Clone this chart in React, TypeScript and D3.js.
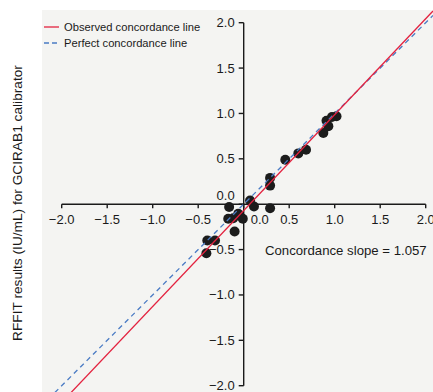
import React from "react";
import * as d3 from "d3";

const xTicks = [-2.0, -1.5, -1.0, -0.5, 0.0, 0.5, 1.0, 1.5, 2.0];
const yTicks = [-2.0, -1.5, -1.0, -0.5, 0.0, 0.5, 1.0, 1.5, 2.0];
const pointsX = [1.02, 0.97, 0.91, 0.93, 0.875, 0.685, 0.6, 0.457, 0.29, 0.29, 0.07, 0.113, 0.29, -0.16, -0.17, -0.115, -0.06, -0.01, -0.1, -0.4, -0.315, -0.41];
const pointsY = [0.97, 0.96, 0.92, 0.86, 0.785, 0.6, 0.56, 0.49, 0.29, 0.205, 0.04, -0.025, -0.045, -0.03, -0.16, -0.155, -0.105, -0.16, -0.3, -0.4, -0.4, -0.54];
const observedSlope = 1.057;
const observedIntercept = -0.07;
const legendLabels = ["Observed concordance line", "Perfect concordance line"];
const slopeLabel = "Concordance slope = 1.057";
const yLabel = "RFFIT results (IU/mL) for GCIRAB1 calibrator";

const W = 433;
const H = 392;
const font = "'Liberation Sans', Arial, Helvetica, sans-serif";
const red = "#e3223f";
const blue = "#4a7bc4";

export default function App() {
  const x = d3.scaleLinear().domain([-2, 2]).range([61.7, 425.7]);
  const y = d3.scaleLinear().domain([-2, 2]).range([385.7, 22.7]);
  const bg = { x0: 42, y0: 10, x1: W, y1: H };
  const x0 = x.invert(bg.x0);
  const x1 = x.invert(bg.x1);
  const line = d3.line<number>().x((d) => x(d[0] as any)).y((d) => y(d[1] as any));
  const obs = [x0, x1].map((v) => [v, observedSlope * v + observedIntercept]);
  const perf = [x0, x1].map((v) => [v, v]);
  const fmt = d3.format(".1f");
  const minus = (v: number) => fmt(v).replace("-", "\u2212");
  return (
    <svg width={W} height={H} style={{ position: "absolute", left: 0, top: 0 }} fontFamily={font}>
      <defs>
        <clipPath id="clip">
          <rect x={bg.x0} y={bg.y0} width={bg.x1 - bg.x0} height={bg.y1 - bg.y0} />
        </clipPath>
      </defs>
      <rect x={0} y={0} width={W} height={H} fill="#ffffff" />
      <rect x={bg.x0} y={bg.y0} width={bg.x1 - bg.x0} height={bg.y1 - bg.y0} fill="#f4f4f2" />
      {/* axes */}
      <g stroke="#1a1a1a" strokeWidth={1.4} fill="none">
        <line x1={x(-2)} x2={x(2)} y1={y(0)} y2={y(0)} />
        <line x1={x(0)} x2={x(0)} y1={y(2)} y2={y(-2)} />
        {xTicks.map((t) => (
          <line key={"xt" + t} x1={x(t)} x2={x(t)} y1={y(0)} y2={y(0) + 4} />
        ))}
        {yTicks.map((t) => (
          <line key={"yt" + t} x1={x(0) - 5} x2={x(0)} y1={y(t)} y2={y(t)} />
        ))}
      </g>
      <g fontSize={13} fill="#1a1a1a">
        {xTicks.map((t) => (
          <text key={"xl" + t} x={t === 0 ? x(t) + 16 : x(t)} y={y(0) + 20} textAnchor="middle">
            {minus(t)}
          </text>
        ))}
        {yTicks.map((t) => (
          <text key={"yl" + t} x={x(0) - 9} y={t === 0 ? y(t) - 4 : y(t) + 4.5} textAnchor="end">
            {minus(t)}
          </text>
        ))}
      </g>
      {/* points */}
      <g fill="#1c1c1c">
        {pointsX.map((px, i) => (
          <circle key={"p" + i} cx={x(px)} cy={y(pointsY[i])} r={5} />
        ))}
      </g>
      {/* lines */}
      <g clipPath="url(#clip)">
        <path d={line(perf as any) || ""} stroke={blue} strokeWidth={1.3} strokeDasharray="5,4" fill="none" />
        <path d={line(obs as any) || ""} stroke={red} strokeWidth={1.3} fill="none" />
      </g>
      {/* legend */}
      <g fontSize={11.2} fill="#1a1a1a">
        <line x1={44} x2={59} y1={27} y2={27} stroke={red} strokeWidth={1.3} />
        <text x={64} y={31}>{legendLabels[0]}</text>
        <line x1={44} x2={60} y1={43} y2={43} stroke={blue} strokeWidth={1.3} strokeDasharray="5,3" />
        <text x={64} y={47}>{legendLabels[1]}</text>
      </g>
      <text x={265} y={255} fontSize={13.2} fill="#1a1a1a">{slopeLabel}</text>
      <text transform="translate(22,203) rotate(-90)" textAnchor="middle" fontSize={13.7} fill="#1a1a1a">
        {yLabel}
      </text>
    </svg>
  );
}
